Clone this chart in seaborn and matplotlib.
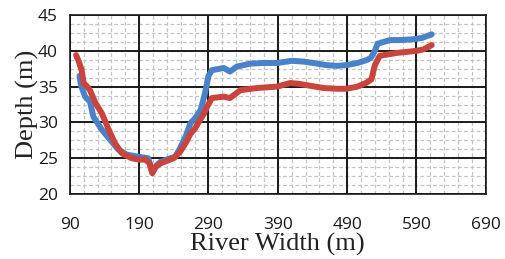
import numpy as np
import pandas as pd
import matplotlib
matplotlib.use("Agg")
import matplotlib.pyplot as plt
import seaborn as sns

# River cross-section profiles (two surveys)
blue_x = [104, 106, 112, 119, 124, 136, 148, 160, 172, 189, 203, 209, 215, 221,
          232, 242, 249, 257, 264, 271, 279, 285, 290, 295, 312, 321, 331, 350,
          370, 389, 410, 427, 441, 460, 475, 489, 505, 518, 524, 530, 534, 552,
          566, 585, 598, 612]
blue_y = [36.5, 35.2, 33.6, 32.9, 30.8, 29.0, 27.6, 26.2, 25.5, 25.2, 25.0, 23.1,
          24.0, 24.5, 24.9, 25.2, 26.4, 28.0, 29.9, 30.6, 31.8, 34.1, 36.5, 37.3,
          37.6, 37.1, 37.8, 38.2, 38.3, 38.3, 38.6, 38.5, 38.3, 38.0, 37.9, 38.0,
          38.3, 38.7, 39.0, 40.0, 41.0, 41.5, 41.5, 41.6, 41.8, 42.3]

red_x = [99, 103, 107, 110, 115, 119, 127, 136, 146, 155, 165, 179, 190, 199, 205,
         209, 214, 221, 232, 240, 249, 257, 264, 271, 278, 284, 288, 295, 312, 321,
         336, 360, 389, 408, 420, 432, 456, 475, 489, 505, 517, 525, 530, 537, 561,
         581, 590, 600, 612]
red_y = [39.4, 38.5, 37.3, 35.5, 35.0, 34.5, 32.7, 31.3, 29.0, 27.1, 25.7, 25.0,
         24.8, 24.8, 24.3, 22.9, 23.8, 24.3, 24.7, 25.0, 25.9, 27.1, 28.4, 29.2,
         30.4, 31.3, 32.2, 33.4, 33.6, 33.4, 34.5, 34.8, 35.0, 35.5, 35.4, 35.2,
         34.8, 34.7, 34.7, 35.0, 35.5, 36.0, 38.0, 39.3, 39.7, 39.9, 40.0, 40.2,
         40.8]

x_ticks = [90, 190, 290, 390, 490, 590, 690]
y_ticks = [20, 25, 30, 35, 40, 45]

sns.set_style("white")
plt.rcParams['font.family'] = ['Open Sans', 'DejaVu Sans']

df = pd.concat([
    pd.DataFrame({"width": blue_x, "depth": blue_y, "profile": "A"}),
    pd.DataFrame({"width": red_x, "depth": red_y, "profile": "B"}),
])

fig = plt.figure(figsize=(5.06, 2.59), dpi=100)
ax = fig.add_axes([0.138, 0.251, 0.822, 0.691])

# light dashed background grid, kept under the black major grid
minor_style = dict(color="#c4c4c4", linewidth=0.9, linestyle=(0, (3, 2)), zorder=0.2)
ax.vlines(np.arange(110, 690, 20), 20, 45, **minor_style)
ax.hlines(np.arange(21.25, 45, 1.25), 90, 690, **minor_style)

sns.lineplot(data=df, x="width", y="depth", hue="profile", sort=False,
             palette={"A": "#4a82c9", "B": "#c8443c"}, linewidth=4.3,
             legend=False, ax=ax, zorder=3)

ax.set_xlim(90, 690)
ax.set_ylim(20, 45)
ax.set_xticks(x_ticks)
ax.set_yticks(y_ticks)
ax.set_axisbelow(True)

ax.grid(which="major", color="#1a1a1a", linewidth=1.4, linestyle="-")
ax.tick_params(which="major", direction="inout", length=13, width=1.2,
               labelsize=12.5, colors="#1a1a1a")
ax.tick_params(axis="x", pad=10)
ax.tick_params(axis="y", pad=2)
for s in ax.spines.values():
    s.set_color("#1a1a1a")
    s.set_linewidth(1.2)
    s.set_zorder(2)

ax.set_xlabel("River Width (m)", family="Liberation Serif", fontsize=19,
              color="#222222", labelpad=0)
ax.set_ylabel("Depth (m)", family="Liberation Serif", fontsize=19,
              color="#222222", labelpad=-1)

fig.savefig("out.png", dpi=100)
